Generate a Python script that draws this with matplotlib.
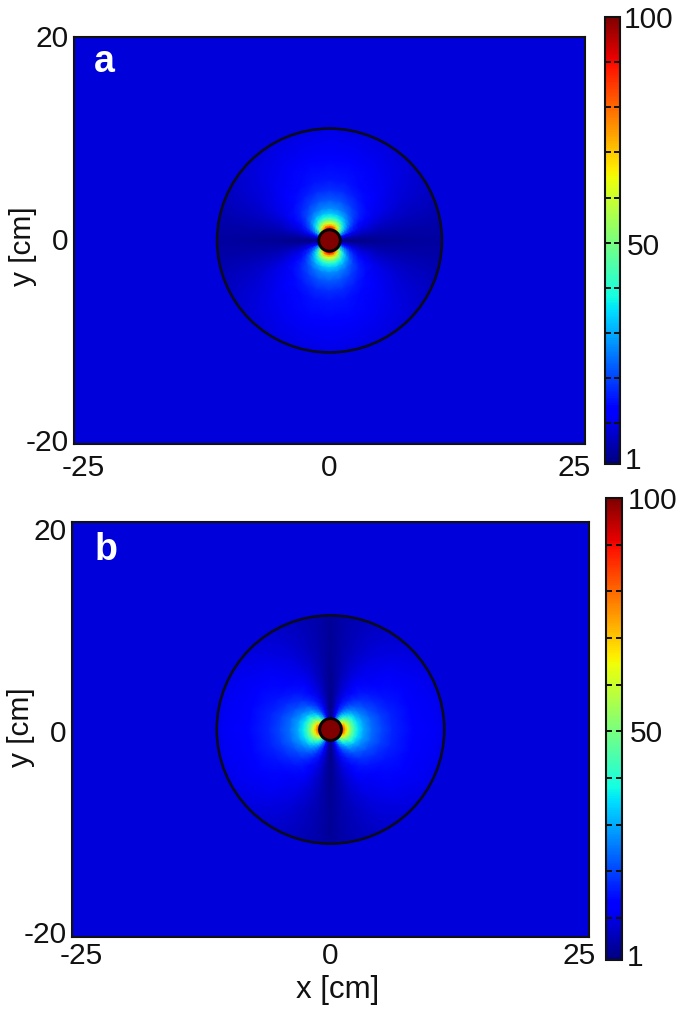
import numpy as np
import matplotlib
matplotlib.use("Agg")
import matplotlib.pyplot as plt
from matplotlib.patches import Circle
from matplotlib.colors import Normalize
from matplotlib.transforms import ScaledTranslation

plt.rcParams['font.family'] = ['Liberation Sans', 'DejaVu Sans']

radii = [1.0, 1.3, 1.5, 1.7, 2.0, 2.3, 2.7, 3.2, 4.0, 5.0, 6.0, 8.0, 10.0, 11.0]
angles = [0, 15, 30, 45, 60, 72, 82, 90]
background_value = 9.0
outer_radius = 11.0
source_radius = 1.05

field_a = [
    [98, 94, 80, 55, 32, 15, 5, 2],
    [88, 84, 72, 50, 30, 14, 5, 1.5],
    [74, 72, 62, 45, 28, 14, 5, 1.5],
    [63, 61, 54, 40, 25, 13, 5, 1.5],
    [50, 49, 44, 34, 22, 12, 4.5, 1.5],
    [40, 39, 36, 29, 19, 11, 4.5, 1.5],
    [33, 32, 29.5, 24, 16.5, 10, 4.5, 1.8],
    [27, 26.5, 24, 20, 14.5, 9, 4.5, 2],
    [22, 21.5, 19.5, 16.5, 12.5, 8.5, 4.5, 2.3],
    [18, 17.5, 16, 14, 11, 7.5, 4.5, 2.7],
    [15.5, 15, 14, 12.5, 10, 7, 4.5, 3],
    [12.5, 12.2, 11.5, 10.5, 8.5, 6.5, 4.8, 3.5],
    [10.8, 10.5, 10, 9.2, 7.8, 6.2, 4.8, 3.8],
    [10, 9.8, 9.3, 8.6, 7.4, 6, 4.8, 4],
]
field_b = [
    [92, 88, 74, 52, 31, 15, 5.5, 2],
    [80, 77, 66, 47, 29, 14, 5.5, 1.5],
    [70, 67, 58, 43, 27, 14, 5.5, 1.5],
    [62, 60, 52, 39, 25, 13, 5.5, 1.5],
    [51, 49, 44, 34, 22, 12.5, 5, 1.5],
    [43, 42, 38, 30, 20, 12, 5, 1.5],
    [36, 35, 31, 25.5, 18, 11, 5, 1.8],
    [30, 29, 26, 21.5, 16, 10, 5, 2],
    [24, 23.5, 21, 18, 14, 9.5, 5, 2.2],
    [20, 19.5, 17.5, 15, 12, 8.5, 5, 2.4],
    [17, 16.5, 15, 13.5, 11, 8, 5, 2.6],
    [13.5, 13.2, 12.4, 11.3, 9.3, 7, 5, 3],
    [11.5, 11.2, 10.7, 9.8, 8.3, 6.6, 5, 3.2],
    [10.6, 10.4, 9.9, 9.1, 7.8, 6.4, 5, 3.4],
]

x_ticks = [-25, 0, 25]
x_tick_labels = ['-25', '0', '25']
y_ticks = [-20, 0, 20]
y_tick_labels = ['-20', '0', '20']
cbar_major = [1, 50, 100]
cbar_minor = [10, 20, 30, 40, 60, 70, 80, 90]

W, H = 685, 1014
fig = plt.figure(figsize=(W / 100, H / 100), dpi=100)


def box(l, t, r, b):
    return [l / W, 1 - b / H, (r - l) / W, (b - t) / H]


norm = Normalize(1, 100)
cmap = plt.get_cmap('jet')
FS = 21.5


def panel(ax_box, cax_box, field, lobe_on_y, letter, letter_xy, xdx, ydy, xdy, show_xlabel, ylabel_xy, cb_dx, cb_dy):
    ax = fig.add_axes(box(*ax_box))
    cax = fig.add_axes(box(*cax_box))
    im = ax.imshow([[background_value] * 2] * 2, extent=[-25, 25, -20, 20], cmap=cmap,
                   norm=norm, aspect='auto', origin='lower', zorder=0)
    th = np.array(angles, float)
    T = np.array(field, float)
    full_th = np.r_[th, 180 - th[-2::-1], 180 + th[1:], 360 - th[-2::-1]]
    full_T = np.hstack([T, T[:, -2::-1], T[:, 1:], T[:, -2::-1]])
    R, A = np.meshgrid(radii, np.deg2rad(full_th), indexing='ij')
    if lobe_on_y:
        X, Y = R * np.sin(A), R * np.cos(A)
    else:
        X, Y = R * np.cos(A), R * np.sin(A)
    ax.pcolormesh(X, Y, full_T, shading='gouraud', cmap=cmap, norm=norm, zorder=1)
    ax.add_patch(Circle((0, 0), outer_radius, fill=False, ec='#0a0a20', lw=1.9, zorder=3))
    ax.add_patch(Circle((0, 0), source_radius, fc='#800000', ec='#0a0505', lw=2.1, zorder=4))
    ax.set_xlim(-25, 25)
    ax.set_ylim(-20, 20)
    ax.set_xticks(x_ticks, x_tick_labels)
    ax.set_yticks(y_ticks, y_tick_labels)
    ax.tick_params(length=0, labelsize=FS, pad=4, colors='#111111')
    for s in ax.spines.values():
        s.set_linewidth(1.5)
        s.set_color('#111111')
    for lab, dx in zip(ax.get_xticklabels(), xdx):
        lab.set_transform(lab.get_transform() + ScaledTranslation(dx / 100, xdy / 100, fig.dpi_scale_trans))
    for lab, dy in zip(ax.get_yticklabels(), ydy):
        lab.set_transform(lab.get_transform() + ScaledTranslation(0, dy / 100, fig.dpi_scale_trans))
    ax.text(letter_xy[0] / W, 1 - letter_xy[1] / H, letter, transform=fig.transFigure,
            color='white', fontsize=27, fontweight='bold', ha='center', va='center', zorder=6)
    fig.text(ylabel_xy[0] / W, 1 - ylabel_xy[1] / H, 'y [cm]', rotation=90, fontsize=FS, ha='center',
             va='center', color='#111111')
    if show_xlabel:
        fig.text(338 / W, 1 - 990 / H, 'x [cm]', fontsize=FS + 1, ha='center', va='center', color='#111111')

    cb = fig.colorbar(im, cax=cax)
    cb.set_ticks(cbar_major, labels=[str(v) for v in cbar_major])
    cb.set_ticks(cbar_minor, minor=True)
    cax.tick_params(which='both', direction='in', left=True, right=True, length=4, width=1.4,
                    color='#111111', labelsize=FS, pad=3, labelcolor='#111111')
    for lab, dx, dy in zip(cax.get_yticklabels(), cb_dx, cb_dy):
        lab.set_transform(lab.get_transform() + ScaledTranslation(dx / 100, dy / 100, fig.dpi_scale_trans))
    cb.outline.set_linewidth(1.5)
    cb.outline.set_edgecolor('#111111')
    return ax


panel((74, 37, 585, 444), (605, 17, 620, 464), field_a, True, 'a', (104, 62),
      [9, 0, -11], [4, 2, 1], -4, False, (23, 246), [1, 3, 0], [6, -1, 0])
panel((72, 522, 589, 937), (606, 498, 622, 960), field_b, False, 'b', (106, 550),
      [9, 0, -10], [5, -2, -7], 1, True, (21, 727), [1, 4, 2], [5, 0, 0])

fig.savefig('out.png', dpi=100)
